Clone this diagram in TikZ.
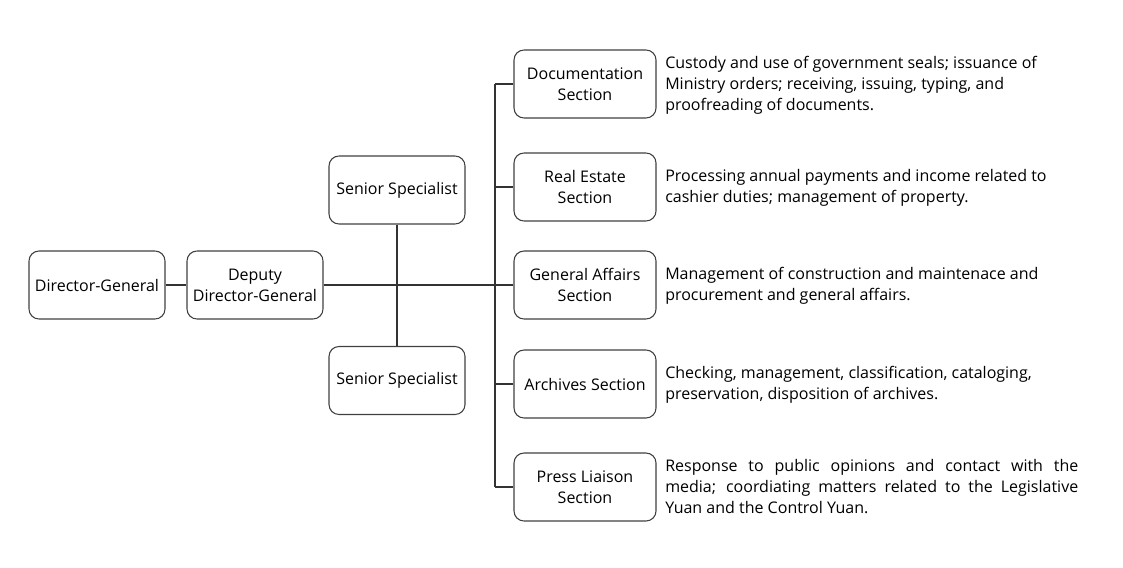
\documentclass[tikz,border=0pt]{standalone}
\usepackage{fontspec}
\setmainfont{Open Sans}
\begin{document}
\begin{tikzpicture}[x=0.75pt,y=-0.75pt,
  box/.style={draw=black!75,line width=0.8pt,rounded corners=7.5pt,minimum width=102pt,minimum height=51pt,inner sep=1pt,align=center,font=\fontsize{12}{15.75}\selectfont},
  secbox/.style={box,minimum width=106.5pt},
  desc/.style={anchor=west,align=left,inner sep=0pt,font=\fontsize{12}{15.75}\selectfont},
  conn/.style={draw=black!80,line width=0.8pt}]
\useasboundingbox (0,0) rectangle (1123,567);
\node[box] (dg) at (97,285) {Director-General};
\node[box] (ddg) at (255,285) {Deputy\\Director-General};
\node[box] (ss1) at (397,190) {Senior Specialist};
\node[box] (ss2) at (397,380.5) {Senior Specialist};
\node[secbox] (doc) at (585,84) {Documentation\\Section};
\node[secbox] (re) at (585,187) {Real Estate\\Section};
\node[secbox] (ga) at (585,285) {General Affairs\\Section};
\node[secbox] (ar) at (585,384) {Archives Section};
\node[secbox] (pl) at (585,487) {Press Liaison\\Section};
\coordinate (tr) at (495,285);
\draw[conn] (dg) -- (ddg);
\draw[conn] (ddg) -- (ga);
\draw[conn] (ss1) -- (ss2);
\draw[conn] (tr |- doc) -- (tr |- pl);
\foreach \n in {doc,re,ar,pl} \draw[conn] (tr |- \n) -- (\n);
\node[desc] (d1) at (665,85) {Custody and use of government seals; issuance of\\Ministry orders; receiving, issuing, typing, and\\proofreading of documents.};
\node[desc] (d2) at (665,188) {Processing annual payments and income related to\\cashier duties; management of property.};
\node[desc] (d3) at (665,286) {Management of construction and maintenace and\\procurement and general affairs.};
\node[desc] (d4) at (665,385) {Checking, management, classification, cataloging,\\preservation, disposition of archives.};
\node[desc] (d5) at (665,487) {\makebox[309.75pt][s]{Response to public opinions and contact with the}\\\makebox[309.75pt][s]{media; coordiating matters related to the Legislative}\\Yuan and the Control Yuan.};
\end{tikzpicture}
\end{document}
